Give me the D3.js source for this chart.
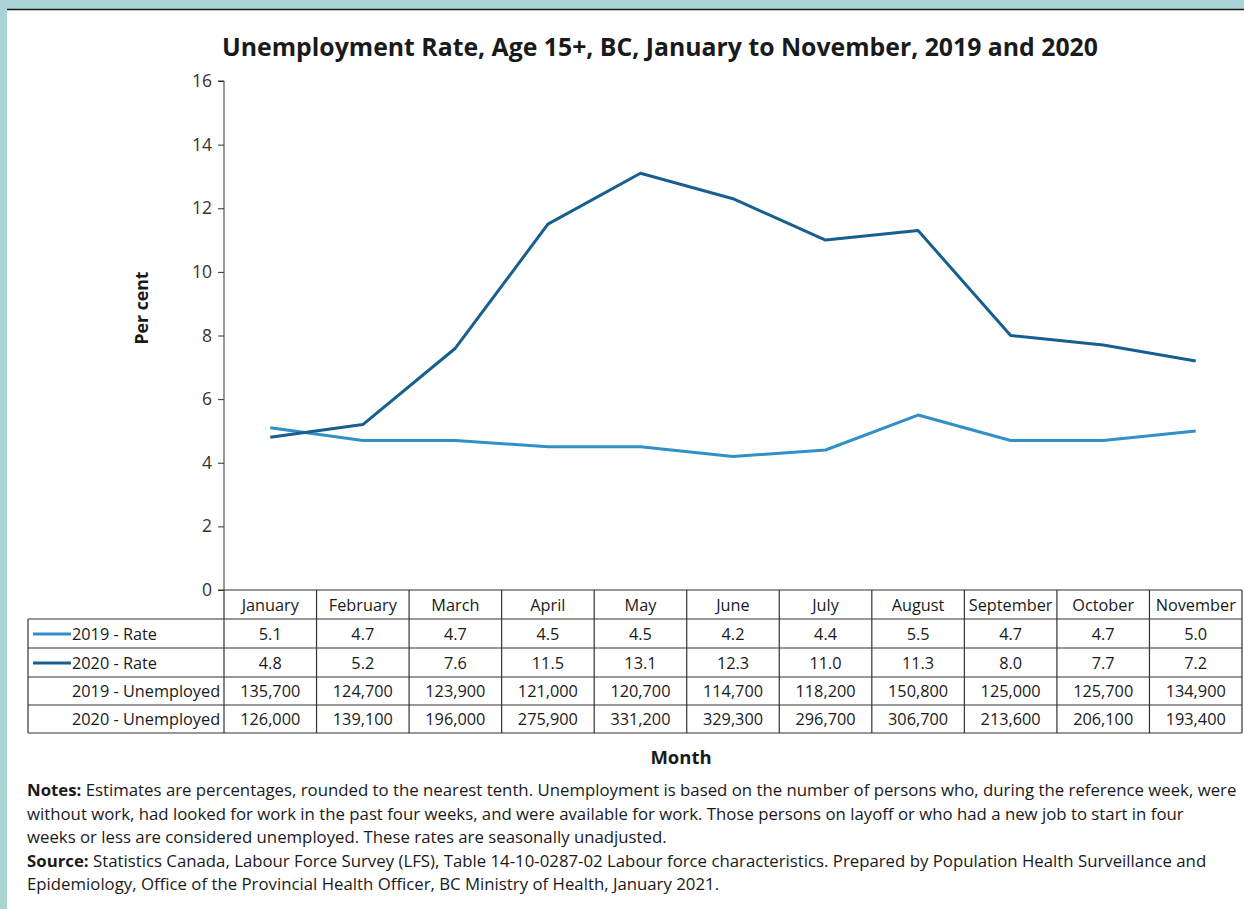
<!DOCTYPE html>
<html>
<head>
<meta charset="utf-8">
<script src="https://cdn.jsdelivr.net/npm/d3@7"></script>
<style>
  body { margin: 0; background: #aad3d3; }
  svg { display: block; font-family: "Open Sans", sans-serif; }
</style>
</head>
<body>
<div id="chart"></div>
<script>
// data
var months = ["January", "February", "March", "April", "May", "June", "July", "August", "September", "October", "November"];
var rate2019 = [5.1, 4.7, 4.7, 4.5, 4.5, 4.2, 4.4, 5.5, 4.7, 4.7, 5.0];
var rate2020 = [4.8, 5.2, 7.6, 11.5, 13.1, 12.3, 11.0, 11.3, 8.0, 7.7, 7.2];
var unemp2019 = [135700, 124700, 123900, 121000, 120700, 114700, 118200, 150800, 125000, 125700, 134900];
var unemp2020 = [126000, 139100, 196000, 275900, 331200, 329300, 296700, 306700, 213600, 206100, 193400];
var yTicks = [0, 2, 4, 6, 8, 10, 12, 14, 16];

var notesLines = [
  ["Notes:", " Estimates are percentages, rounded to the nearest tenth. Unemployment is based on the number of persons who, during the reference week, were"],
  ["", "without work, had looked for work in the past four weeks, and were available for work. Those persons on layoff or who had a new job to start in four"],
  ["", "weeks or less are considered unemployed. These rates are seasonally unadjusted."],
  ["Source:", " Statistics Canada, Labour Force Survey (LFS), Table 14-10-0287-02 Labour force characteristics. Prepared by Population Health Surveillance and"],
  ["", "Epidemiology, Office of the Provincial Health Officer, BC Ministry of Health, January 2021."]
];

var W = 1244, H = 909;
var c2019 = "#3190c6", c2020 = "#175f8f", ink = "#1a1a1a";
var cellSize = 16.3;

var svg = d3.select("#chart").append("svg")
    .attr("width", W)
    .attr("height", H);

// page frame
svg.append("rect").attr("x", 0).attr("y", 0).attr("width", W).attr("height", H).attr("fill", "#aad3d3");
svg.append("rect").attr("x", 7).attr("y", 9).attr("width", W - 7).attr("height", H - 9).attr("fill", "#fff");
svg.append("line").attr("x1", 7).attr("x2", W).attr("y1", 9.5).attr("y2", 9.5).attr("stroke", "#1a1a1a").attr("stroke-width", 1.5);

var plotLeft = 224, plotRight = 1242, plotTop = 81, plotBottom = 590;

var x = d3.scaleBand().domain(months).range([plotLeft, plotRight]).padding(0);
var y = d3.scaleLinear().domain([0, 16]).range([plotBottom, plotTop]);

// title
svg.append("text")
    .attr("x", 660).attr("y", 56)
    .attr("text-anchor", "middle")
    .attr("font-size", 24.8).attr("font-weight", "bold")
    .attr("fill", ink)
    .text("Unemployment Rate, Age 15+, BC, January to November, 2019 and 2020");

// y axis
var yAxis = d3.axisLeft(y).tickValues(yTicks).tickSize(6).tickPadding(6);
var gy = svg.append("g")
    .attr("transform", "translate(" + plotLeft + ",0)")
    .call(yAxis);
gy.select(".domain").attr("stroke", "#333").attr("d", "M-6," + plotTop + "H0V" + plotBottom);
gy.selectAll(".tick line").attr("stroke", "#333");
gy.selectAll(".tick text").attr("font-size", 17.5).attr("fill", "#333").attr("font-family", "'Open Sans', sans-serif");

svg.append("text")
    .attr("transform", "translate(148,308) rotate(-90)")
    .attr("text-anchor", "middle")
    .attr("font-size", 17.7).attr("font-weight", "bold")
    .attr("fill", ink)
    .text("Per cent");

// lines
var line = d3.line()
    .x(function (d, i) { return x(months[i]) + x.bandwidth() / 2; })
    .y(function (d) { return y(d); });

svg.append("path").datum(rate2019)
    .attr("d", line).attr("fill", "none")
    .attr("stroke", c2019).attr("stroke-width", 3).attr("stroke-linejoin", "round");
svg.append("path").datum(rate2020)
    .attr("d", line).attr("fill", "none")
    .attr("stroke", c2020).attr("stroke-width", 3).attr("stroke-linejoin", "round");

// data table
var tableLeft = 28;
var rowEdges = [590, 619, 648, 677, 705, 733];
var fmt = d3.format(",");
var rows = [
  { label: "2019 - Rate", color: c2019, values: rate2019.map(function (v) { return v.toFixed(1); }) },
  { label: "2020 - Rate", color: c2020, values: rate2020.map(function (v) { return v.toFixed(1); }) },
  { label: "2019 - Unemployed", color: null, values: unemp2019.map(fmt) },
  { label: "2020 - Unemployed", color: null, values: unemp2020.map(fmt) }
];

var grid = svg.append("g").attr("stroke", "#333").attr("stroke-width", 1.2);
// axis line at zero (top of header row)
grid.append("line").attr("x1", plotLeft - 6).attr("x2", plotRight).attr("y1", rowEdges[0]).attr("y2", rowEdges[0]);
// horizontal rules
rowEdges.slice(1).forEach(function (ry) {
  grid.append("line").attr("x1", tableLeft).attr("x2", plotRight).attr("y1", ry).attr("y2", ry);
});
// vertical rules
var vx = [plotLeft].concat(months.map(function (m) { return x(m) + x.bandwidth(); }));
vx.forEach(function (xx) {
  grid.append("line").attr("x1", xx).attr("x2", xx).attr("y1", rowEdges[0]).attr("y2", rowEdges[5]);
});
grid.append("line").attr("x1", tableLeft).attr("x2", tableLeft).attr("y1", rowEdges[1]).attr("y2", rowEdges[5]);

// header
svg.append("g").selectAll("text").data(months).enter().append("text")
    .attr("x", function (d) { return x(d) + x.bandwidth() / 2; })
    .attr("y", (rowEdges[0] + rowEdges[1]) / 2 + 6)
    .attr("text-anchor", "middle")
    .attr("font-size", cellSize).attr("fill", ink)
    .text(function (d) { return d; });

rows.forEach(function (r, ri) {
  var cy = (rowEdges[ri + 1] + rowEdges[ri + 2]) / 2 + 6;
  if (r.color) {
    svg.append("line")
        .attr("x1", 33).attr("x2", 71)
        .attr("y1", cy - 5.5).attr("y2", cy - 5.5)
        .attr("stroke", r.color).attr("stroke-width", 3);
  }
  svg.append("text")
      .attr("x", 72).attr("y", cy)
      .attr("font-size", cellSize).attr("fill", ink)
      .text(r.label);
  svg.append("g").selectAll("text").data(r.values).enter().append("text")
      .attr("x", function (d, i) { return x(months[i]) + x.bandwidth() / 2; })
      .attr("y", cy)
      .attr("text-anchor", "middle")
      .attr("font-size", cellSize).attr("fill", ink)
      .text(function (d) { return d; });
});

// x axis title
svg.append("text")
    .attr("x", 681).attr("y", 764)
    .attr("text-anchor", "middle")
    .attr("font-size", 18.5).attr("font-weight", "bold")
    .attr("fill", ink)
    .text("Month");

// notes
var notes = svg.append("g").attr("font-size", 16.8).attr("fill", ink);
notesLines.forEach(function (ln, i) {
  var t = notes.append("text").attr("x", 27).attr("y", 796 + i * 23.5);
  if (ln[0]) t.append("tspan").attr("font-weight", "bold").text(ln[0]);
  t.append("tspan").attr("xml:space", "preserve").text(ln[1]);
});
</script>
</body>
</html>
